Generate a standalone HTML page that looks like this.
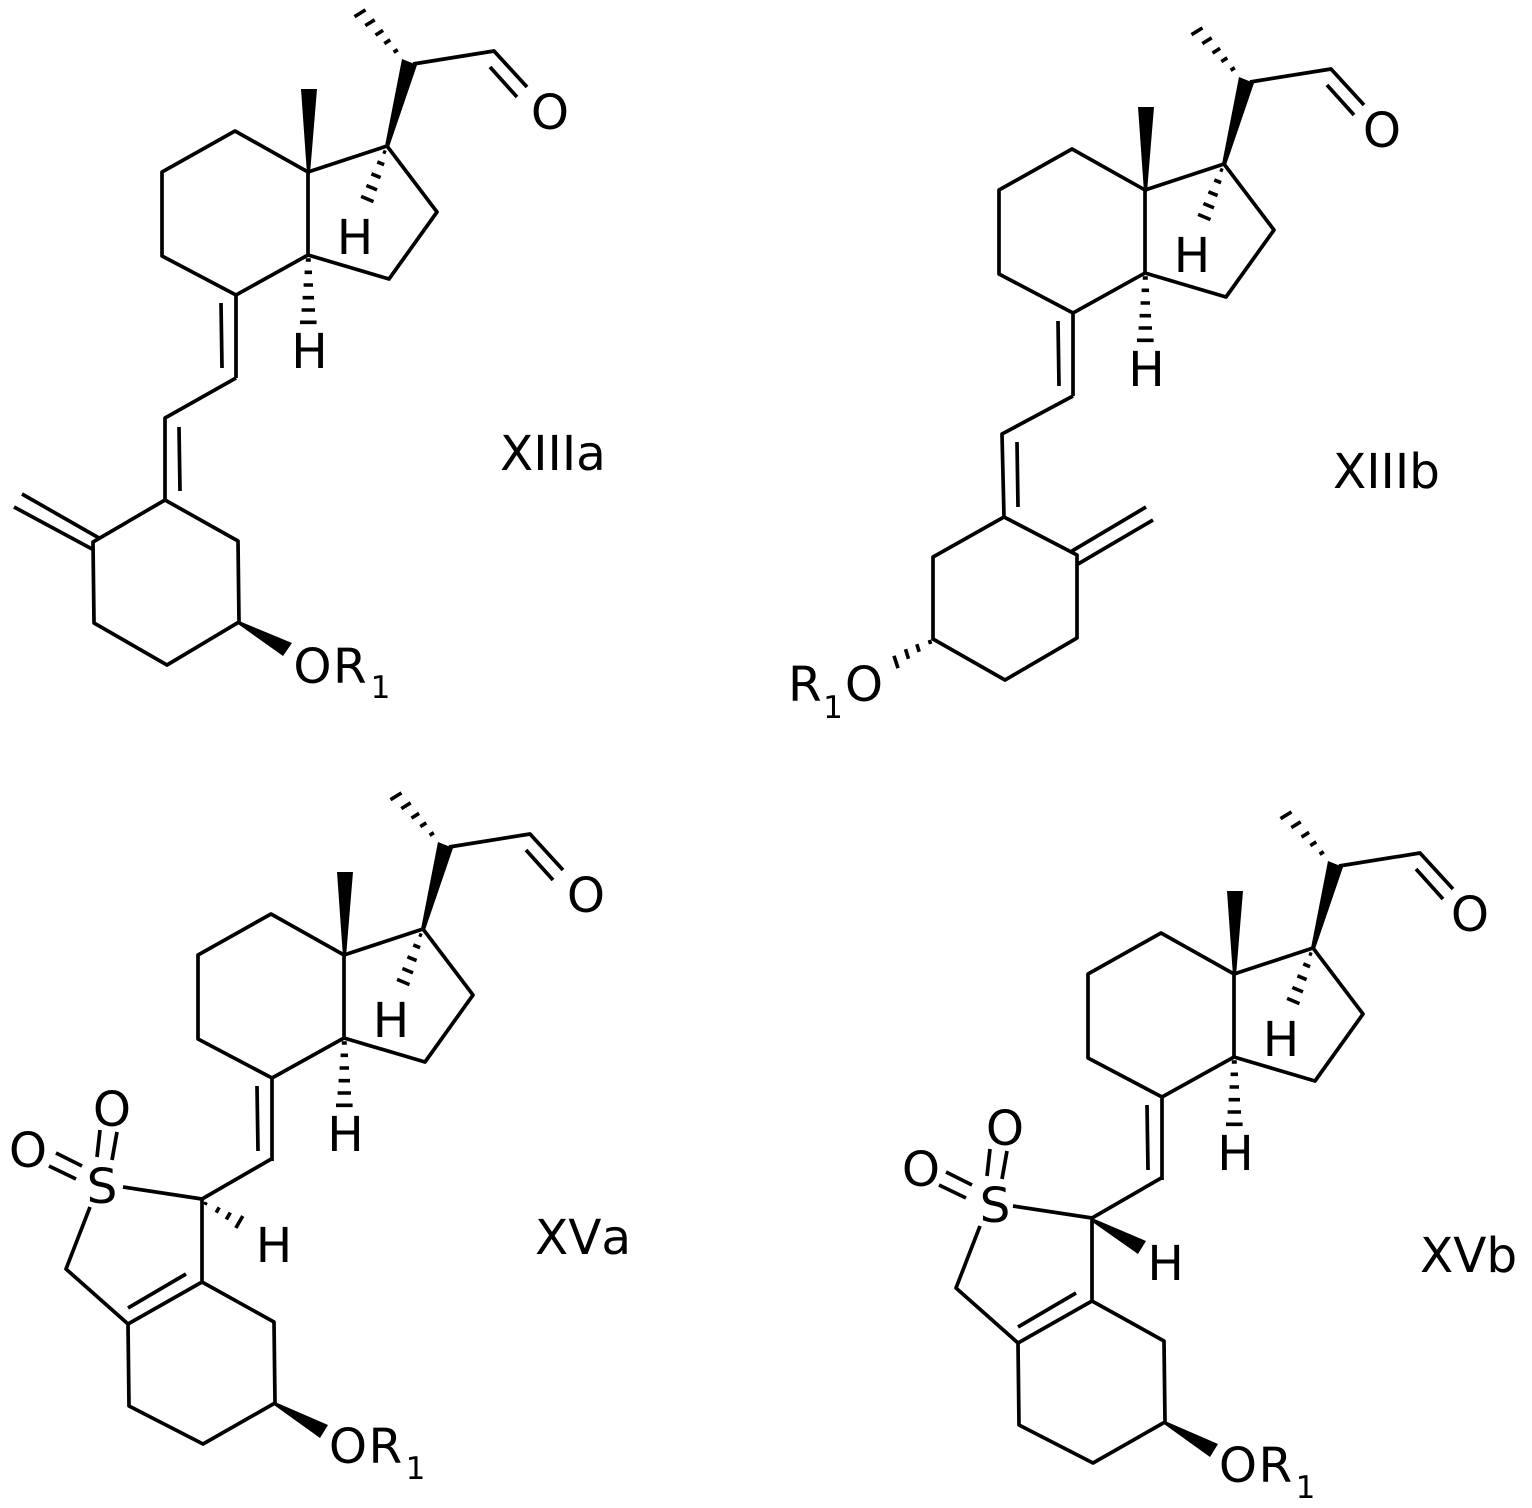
<!DOCTYPE html>
<html><head><meta charset="utf-8"><title>Structures XIIIa, XIIIb, XVa, XVb</title>
<style>
html,body{margin:0;padding:0;background:#fff}
svg{display:block}
text{font-family:"DejaVu Sans",sans-serif;font-size:48.5px;fill:#000;text-anchor:middle;font-kerning:none}
.l{text-anchor:start}
.s{font-size:31px}
.b{fill:none;stroke:#000;stroke-width:3.7;stroke-linejoin:round;stroke-linecap:butt}
.h{fill:none;stroke:#000;stroke-width:3.6}
</style></head><body>
<svg width="1532" height="1508" viewBox="0 0 1532 1508" xmlns="http://www.w3.org/2000/svg">
<defs>
<g id="core">
<path class="b" d="M308 172L235 131L162 172L162 256L236 295L308 255L308 172L387 146L437 212L389 279L308 255M236 295L236 378M221 303L222 368"/>
<path class="b" d="M413 64L494 51L527 87M490 67L517 97"/>
<polygon points="307,174 301,89 317,89 310,174"/>
<polygon points="385,146 402,59 417,65 389,147"/>
<path class="h" d="M354.5 16.7L365.5 9.9M365.3 25.6L374.7 19.8M375.5 35.1L383.1 30.3M384.3 43.6L390.3 39.8M393.6 52.3L397.8 49.7"/>
<path class="h" d="M305.8 260H310.8M304.6 272.3H312M303.6 285H313M302.6 297.7H314M301.6 310H315M300 322.3H316.6"/>
<path class="h" d="M383 151.5L386 152.7M377.3 161.9L384.1 164.7M371.4 173.8L380.6 177.6M366.4 185.5L377 189.9M361.1 196.4L373.5 201.6"/>
</g>
<g id="lower">
<path class="b" d="M273 1158L202 1199L123 1187M90 1207L66 1269L128 1324L202 1282L202 1199M128 1308L186 1274M202 1282L274 1322L275 1403L203 1444L129 1406L128 1324"/>
<path class="b" d="M100 1130L97 1157M117 1132L112 1160M56 1153L82 1166M49 1166L76 1179"/>
<polygon points="275,1402 328,1425 320,1438 274,1405"/>
</g>
</defs>

<!-- XIIIa -->
<use href="#core"/>
<path class="b" d="M236 378L165 418L165 500L93 542L94 623L167 665L239 622L238 541L165 500M179 427L180 491M99 538L22 494M92 549L14 507"/>
<polygon points="239,621 292,643 283,656 238,624"/>
<text x="550" y="129">O</text>
<text x="355" y="254">H</text>
<text x="309.5" y="368">H</text>
<text x="312.5" y="683">O</text>
<text class="l" x="333" y="683">R</text>
<text class="s" x="380.5" y="698">1</text>
<text class="l" x="500" y="470">XIIIa</text>

<!-- XIIIb -->
<use href="#core" transform="translate(837,18)"/>
<path class="b" d="M1073 396L1002 434L1004 517L933 557L933 639L1005 680L1077 638L1077 555L1004 517M1017 442L1018 507M1072 551L1146 507M1078 564L1153 520"/>
<path class="h" d="M929.4 640L930.6 644M916.8 644.2L919.2 651.8M905.5 649.2L908.5 658.8M894 655.8L898 668.2"/>
<text x="1382" y="147">O</text>
<text x="1192" y="272">H</text>
<text x="1146.5" y="386">H</text>
<text class="l" x="788" y="701">R</text>
<text class="s" x="833" y="718">1</text>
<text x="864" y="701">O</text>
<text class="l" x="1333" y="488">XIIIb</text>

<!-- XVa -->
<use href="#core" transform="translate(36,783)"/>
<use href="#lower"/>
<path class="h" d="M204.8 1204.8L206.2 1202.2M216.2 1212.6L219.2 1207.4M226.3 1219.4L230.3 1212.6M235.8 1228L242.8 1216"/>
<text x="586" y="912">O</text>
<text x="391" y="1037">H</text>
<text x="345.5" y="1151">H</text>
<text x="102" y="1203">S</text>
<text x="112" y="1126">O</text>
<text x="28" y="1167">O</text>
<text x="274" y="1262">H</text>
<text x="348" y="1463">O</text>
<text class="l" x="368.5" y="1463">R</text>
<text class="s" x="415.5" y="1479">1</text>
<text class="l" x="535" y="1254">XVa</text>

<!-- XVb -->
<use href="#core" transform="translate(926,802)"/>
<use href="#lower" transform="translate(890,19)"/>
<polygon points="1092,1218 1146,1241 1138,1254 1091,1221"/>
<text x="1470" y="931">O</text>
<text x="1281" y="1056">H</text>
<text x="1235.5" y="1170">H</text>
<text x="995" y="1222">S</text>
<text x="1005" y="1145">O</text>
<text x="921" y="1186">O</text>
<text x="1165.6" y="1280">H</text>
<text x="1238" y="1482">O</text>
<text class="l" x="1258.5" y="1482">R</text>
<text class="s" x="1305.5" y="1498">1</text>
<text class="l" x="1420" y="1272">XVb</text>
</svg>
</body></html>
